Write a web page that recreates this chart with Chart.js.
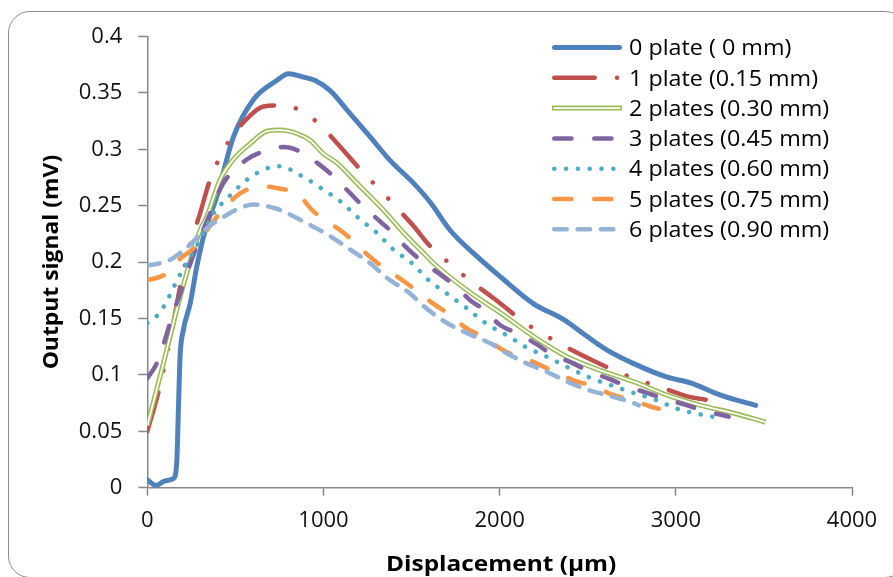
<!DOCTYPE html>
<html><head><meta charset="utf-8">
<script src="https://cdn.jsdelivr.net/npm/chart.js@4.4.0/dist/chart.umd.min.js"></script>
<style>
html,body{margin:0;padding:0;background:#fff;overflow:hidden;}
#wrap{position:relative;width:893px;height:577px;}
#frame{position:absolute;left:8px;top:11px;width:899px;height:567px;border:1.5px solid #8c8c8c;border-radius:22px;box-sizing:border-box;pointer-events:none;}
canvas{position:absolute;left:0;top:0;}
</style></head><body>
<div id="wrap"><canvas id="c" width="893" height="577"></canvas><div id="frame"></div></div>
<script>
// ---------- DATA ----------
const seriesNames = ['0 plate ( 0 mm)','1 plate (0.15 mm)','2 plates (0.30 mm)','3 plates (0.45 mm)','4 plates (0.60 mm)','5 plates (0.75 mm)','6 plates (0.90 mm)'];
const xTickLabels = ['0','1000','2000','3000','4000'];
const yTickLabels = ['0','0.05','0.1','0.15','0.2','0.25','0.3','0.35','0.4'];
const xTitle = 'Displacement (µm)';
const yTitle = 'Output signal (mV)';

const x0 = [0,50,100,148,167,176,186,205,243,281,328,394,489,602,735,801,886,953,1038,1133,1265,1379,1511,1606,1720,1871,2004,2193,2364,2497,2610,2761,2951,3083,3254,3453];
const y0 = [0.007,0.002,0.006,0.008,0.022,0.066,0.116,0.140,0.163,0.196,0.228,0.258,0.311,0.344,0.361,0.367,0.364,0.361,0.352,0.335,0.311,0.290,0.270,0.253,0.228,0.205,0.187,0.163,0.149,0.134,0.122,0.110,0.098,0.093,0.082,0.073];

const x1 = [0,62,148,186,252,299,356,413,479,565,659,764,886,991,1085,1227,1322,1417,1511,1606,1663,1758,1862,1966,2146,2260,2373,2487,2695,2818,2951,3065,3170];
const y1 = [0.050,0.084,0.146,0.178,0.220,0.243,0.273,0.293,0.311,0.327,0.338,0.339,0.333,0.320,0.304,0.279,0.264,0.248,0.232,0.214,0.206,0.193,0.180,0.168,0.146,0.135,0.125,0.116,0.101,0.094,0.087,0.081,0.078];

const x2 = [0,91,186,299,337,413,489,584,678,754,849,924,1000,1076,1190,1341,1455,1568,1625,1815,2004,2193,2383,2572,2761,2951,3140,3330,3510];
const y2 = [0.055,0.110,0.169,0.228,0.240,0.273,0.291,0.305,0.316,0.317,0.314,0.308,0.296,0.288,0.270,0.246,0.226,0.208,0.199,0.175,0.155,0.134,0.116,0.104,0.094,0.082,0.073,0.066,0.058];

const x3 = [0,53,100,129,186,280,356,432,565,659,773,868,981,1057,1152,1227,1322,1400,1464,1549,1663,1739,1834,1909,2004,2099,2212,2288,2420,2497,2629,2705,2837,2932,3065,3140,3273,3300];
const y3 = [0.097,0.110,0.131,0.146,0.172,0.214,0.243,0.270,0.291,0.298,0.302,0.298,0.286,0.276,0.261,0.249,0.236,0.225,0.214,0.202,0.189,0.180,0.166,0.158,0.144,0.137,0.127,0.119,0.110,0.104,0.096,0.091,0.084,0.079,0.073,0.069,0.064,0.063];

const x4 = [0,53,91,129,157,186,224,280,375,470,565,678,754,868,934,991,1095,1199,1303,1398,1502,1597,1710,1815,1919,2042,2146,2269,2383,2506,2629,2761,2884,3008,3140,3207];
const y4 = [0.146,0.152,0.160,0.171,0.180,0.189,0.199,0.214,0.243,0.259,0.273,0.283,0.285,0.277,0.271,0.265,0.254,0.239,0.226,0.211,0.199,0.184,0.171,0.159,0.146,0.135,0.125,0.116,0.107,0.098,0.091,0.084,0.078,0.070,0.065,0.063];

const x5 = [0,100,186,261,394,527,659,754,849,943,1114,1284,1474,1625,1701,1815,1890,2042,2099,2212,2307,2440,2515,2648,2743,2856,2903];
const y5 = [0.184,0.189,0.203,0.212,0.240,0.261,0.267,0.265,0.261,0.245,0.226,0.202,0.181,0.163,0.155,0.141,0.135,0.120,0.117,0.110,0.103,0.094,0.091,0.082,0.078,0.072,0.070];

const x6 = [0,72,129,186,233,337,432,527,602,697,773,849,924,1038,1152,1265,1360,1493,1568,1701,1815,1947,2042,2156,2250,2383,2497,2610,2761,2790];
const y6 = [0.197,0.199,0.202,0.208,0.214,0.230,0.240,0.248,0.251,0.249,0.245,0.239,0.233,0.223,0.211,0.199,0.186,0.172,0.161,0.146,0.137,0.128,0.119,0.110,0.104,0.094,0.087,0.082,0.075,0.073];

const seriesX = [x0,x1,x2,x3,x4,x5,x6];
const seriesY = [y0,y1,y2,y3,y4,y5,y6];

// ---------- STYLES ----------
const styles = [
  {color:'#4F81BD', width:5,   dash:[],                               cap:'round'},
  {color:'#C0504D', width:4.5, dash:[40.5,22.25,0.1,22.25,0.1,22.25], cap:'round'},
  {color:'#9BBB59', width:5,   dash:[],                               cap:'butt', inner:'#ffffff', innerWidth:1.8},
  {color:'#8064A2', width:4.5, dash:[17.2,22.8],                      cap:'round'},
  {color:'#4BACC6', width:4.5, dash:[0.1,11.7],                       cap:'round'},
  {color:'#F79646', width:4.5, dash:[17.2,22.8],                      cap:'round'},
  {color:'#95B3D7', width:4.5, dash:[12.5,10.8],                      cap:'round'}
];

const FONT = "'Open Sans', 'Liberation Sans', sans-serif";
const axisGray = '#878787';

const datasets = [];
seriesX.forEach((xs, i) => {
  const pts = xs.map((x, k) => ({x, y: seriesY[i][k]}));
  const s = styles[i];
  datasets.push({
    label: seriesNames[i], data: pts, showLine: true, pointRadius: 0,
    borderColor: s.color, borderWidth: s.width, borderDash: s.dash,
    borderCapStyle: s.cap, borderJoinStyle: 'round',
    cubicInterpolationMode: 'monotone', fill: false,
    order: 20 - 2 * i
  });
  if (s.inner) {
    datasets.push({
      label: '_inner', data: pts, showLine: true, pointRadius: 0,
      borderColor: s.inner, borderWidth: s.innerWidth, borderCapStyle: 'butt',
      borderJoinStyle: 'round', cubicInterpolationMode: 'monotone', fill: false,
      order: 20 - 2 * i - 1
    });
  }
});

function stretchedText(ctx, text, x, y, sx) {
  ctx.save();
  ctx.translate(x, y);
  ctx.scale(sx, 1);
  ctx.fillText(text, 0, 0);
  ctx.restore();
}

const legendPlugin = {
  id: 'excelLegend',
  afterDraw(chart) {
    const ctx = chart.ctx;
    ctx.save();
    const L = 552, R = 622, tx = 629, top = 47.5, dy = 30.3;
    styles.forEach((s, i) => {
      const y = top + i * dy;
      const pad = s.cap === 'round' ? s.width / 2 : 0;
      ctx.beginPath();
      ctx.setLineDash(s.dash);
      ctx.lineCap = s.cap;
      ctx.strokeStyle = s.color;
      ctx.lineWidth = s.width;
      ctx.moveTo(L + pad, y); ctx.lineTo(R - pad, y);
      ctx.stroke();
      if (s.inner) {
        ctx.beginPath(); ctx.setLineDash([]); ctx.lineCap = 'butt';
        ctx.strokeStyle = s.inner; ctx.lineWidth = s.innerWidth;
        ctx.moveTo(L + 1.6, y); ctx.lineTo(R - 1.6, y); ctx.stroke();
      }
      ctx.setLineDash([]);
      ctx.fillStyle = '#000';
      ctx.font = "22px " + FONT;
      ctx.textBaseline = 'middle';
      ctx.textAlign = 'left';
      stretchedText(ctx, seriesNames[i], tx, y + 1.5, 1.06);
    });
    ctx.restore();
  }
};

const titlePlugin = {
  id: 'axisTitles',
  afterDraw(chart) {
    const ctx = chart.ctx;
    const area = chart.chartArea;
    ctx.save();
    ctx.fillStyle = '#000';
    ctx.font = "bold 22px " + FONT;
    ctx.textAlign = 'center';
    ctx.textBaseline = 'alphabetic';
    // x title
    stretchedText(ctx, xTitle, (area.left + area.right) / 2 + 1.5, 570.5, 1.11);
    // y title (rotated)
    ctx.save();
    ctx.translate(57.5, (area.top + area.bottom) / 2);
    ctx.rotate(-Math.PI / 2);
    ctx.scale(1.04, 1);
    ctx.fillText(yTitle, 0, 0);
    ctx.restore();
    ctx.restore();
  }
};

new Chart(document.getElementById('c'), {
  type: 'scatter',
  data: { datasets },
  options: {
    responsive: false, animation: false, devicePixelRatio: 1,
    layout: { padding: { left: 0, top: 36.5, right: 41, bottom: 0 } },
    plugins: { legend: { display: false }, tooltip: { enabled: false } },
    scales: {
      x: {
        type: 'linear', min: 0, max: 4000,
        afterFit(scale) { scale.height = 89.3; },
        ticks: { stepSize: 1000, padding: 12, color: '#111', font: { family: FONT, size: 22 },
                 callback: (v, i) => xTickLabels[i], maxRotation: 0 },
        grid: { drawOnChartArea: false, drawTicks: true, tickLength: 8, tickColor: axisGray, tickWidth: 1.5 },
        border: { display: true, color: axisGray, width: 1.5 },
        title: { display: false, text: xTitle }
      },
      y: {
        type: 'linear', min: 0, max: 0.4,
        afterFit(scale) { scale.width = 147.3; },
        ticks: { stepSize: 0.05, padding: 16, color: '#111', font: { family: FONT, size: 22 },
                 callback: (v, i) => yTickLabels[i] },
        grid: { drawOnChartArea: false, drawTicks: true, tickLength: 9, tickColor: axisGray, tickWidth: 1.5 },
        border: { display: true, color: axisGray, width: 1.5 },
        title: { display: false, text: yTitle }
      }
    }
  },
  plugins: [legendPlugin, titlePlugin]
});
</script>
</body></html>
